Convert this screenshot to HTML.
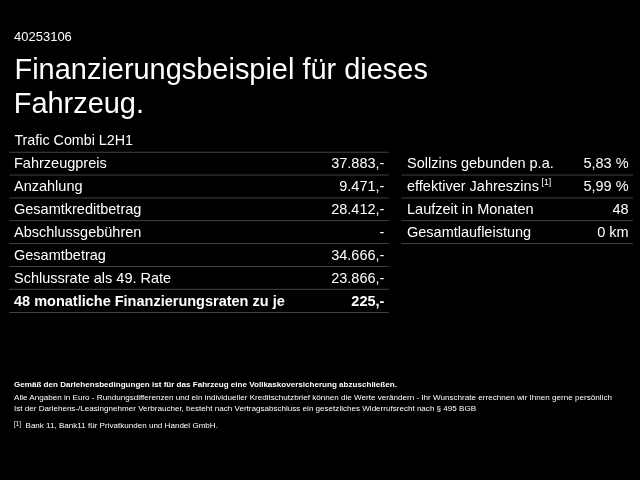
<!DOCTYPE html>
<html lang="de"><head><meta charset="utf-8">
<style>
html,body{margin:0;padding:0;background:#000;}
body{width:640px;height:480px;overflow:hidden;position:relative;color:#fff;font-family:"Liberation Sans",sans-serif;}
.abs{position:absolute;white-space:nowrap;}
#id{left:14px;top:29px;font-size:13px;line-height:15px;}
#h{left:14.5px;top:53px;font-size:28.94px;line-height:33px;}
#h2{left:13.8px;top:87px;font-size:29px;line-height:33px;letter-spacing:-0.05px;}
#model{left:14.4px;top:131px;font-size:14.3px;line-height:18px;}
.t{position:absolute;white-space:nowrap;font-size:14.5px;line-height:20px;}
.b{font-weight:bold;}
sup{font-size:8.7px;line-height:0;vertical-align:baseline;position:relative;top:-6px;margin-left:2.6px;}
.f{font-size:8.07px;line-height:12px;left:14px;}
</style></head><body>
<div class="abs" id="id">40253106</div>
<div class="abs" id="h">Finanzierungsbeispiel für dieses</div>
<div class="abs" id="h2">Fahrzeug.</div>
<div class="abs" id="model">Trafic Combi L2H1</div>
<svg class="abs" style="left:0;top:0" width="640" height="480" viewBox="0 0 640 480">
<rect x="9.4" y="151.75" width="379.3" height="1" fill="#424242"/>
<rect x="9.4" y="174.55" width="379.3" height="1" fill="#424242"/>
<rect x="9.4" y="197.45" width="379.3" height="1" fill="#424242"/>
<rect x="9.4" y="220.10" width="379.3" height="1" fill="#424242"/>
<rect x="9.4" y="243.05" width="379.3" height="1" fill="#424242"/>
<rect x="9.4" y="266.05" width="379.3" height="1" fill="#424242"/>
<rect x="9.4" y="288.80" width="379.3" height="1" fill="#424242"/>
<rect x="9.4" y="312.00" width="379.3" height="1" fill="#424242"/>
<rect x="401.4" y="174.55" width="231.5" height="1" fill="#424242"/>
<rect x="401.4" y="197.45" width="231.5" height="1" fill="#424242"/>
<rect x="401.4" y="220.10" width="231.5" height="1" fill="#424242"/>
<rect x="401.4" y="243.05" width="231.5" height="1" fill="#424242"/>
</svg>
<div class="t" style="left:14px;top:153px">Fahrzeugpreis</div><div class="t" style="right:255.6px;top:153px">37.883,-</div>
<div class="t" style="left:14px;top:176px">Anzahlung</div><div class="t" style="right:255.6px;top:176px">9.471,-</div>
<div class="t" style="left:14px;top:199px">Gesamtkreditbetrag</div><div class="t" style="right:255.6px;top:199px">28.412,-</div>
<div class="t" style="left:14px;top:222px">Abschlussgebühren</div><div class="t" style="right:255.6px;top:222px">-</div>
<div class="t" style="left:14px;top:245px">Gesamtbetrag</div><div class="t" style="right:255.6px;top:245px">34.666,-</div>
<div class="t" style="left:14px;top:268px">Schlussrate als 49. Rate</div><div class="t" style="right:255.6px;top:268px">23.866,-</div>
<div class="t b" style="left:14px;top:291px">48 monatliche Finanzierungsraten zu je</div><div class="t b" style="right:255.6px;top:291px">225,-</div>
<div class="t" style="left:407px;top:153px">Sollzins gebunden p.a.</div><div class="t" style="right:11.4px;top:153px">5,83 %</div>
<div class="t" style="left:407px;top:176px">effektiver Jahreszins<sup>[1]</sup></div><div class="t" style="right:11.4px;top:176px">5,99 %</div>
<div class="t" style="left:407px;top:199px">Laufzeit in Monaten</div><div class="t" style="right:11.4px;top:199px">48</div>
<div class="t" style="left:407px;top:222px">Gesamtlaufleistung</div><div class="t" style="right:11.4px;top:222px">0 km</div>

<div class="abs f b" style="top:379px">Gemäß den Darlehensbedingungen ist für das Fahrzeug eine Vollkaskoversicherung abzuschließen.</div>
<div class="abs f" style="top:392px;font-size:8.1px">Alle Angaben in Euro - Rundungsdifferenzen und ein individueller Kreditschutzbrief können die Werte verändern - Ihr Wunschrate errechnen wir Ihnen gerne persönlich</div>
<div class="abs f" style="top:403px">Ist der Darlehens-/Leasingnehmer Verbraucher, besteht nach Vertragsabschluss ein gesetzliches Widerrufsrecht nach § 495 BGB</div>
<div class="abs f" style="top:420px"><span style="font-size:6.4px;position:relative;top:-2px;display:inline-block;width:11.5px">[1]</span>Bank 11, Bank11 für Privatkunden und Handel GmbH.</div>
</body></html>
